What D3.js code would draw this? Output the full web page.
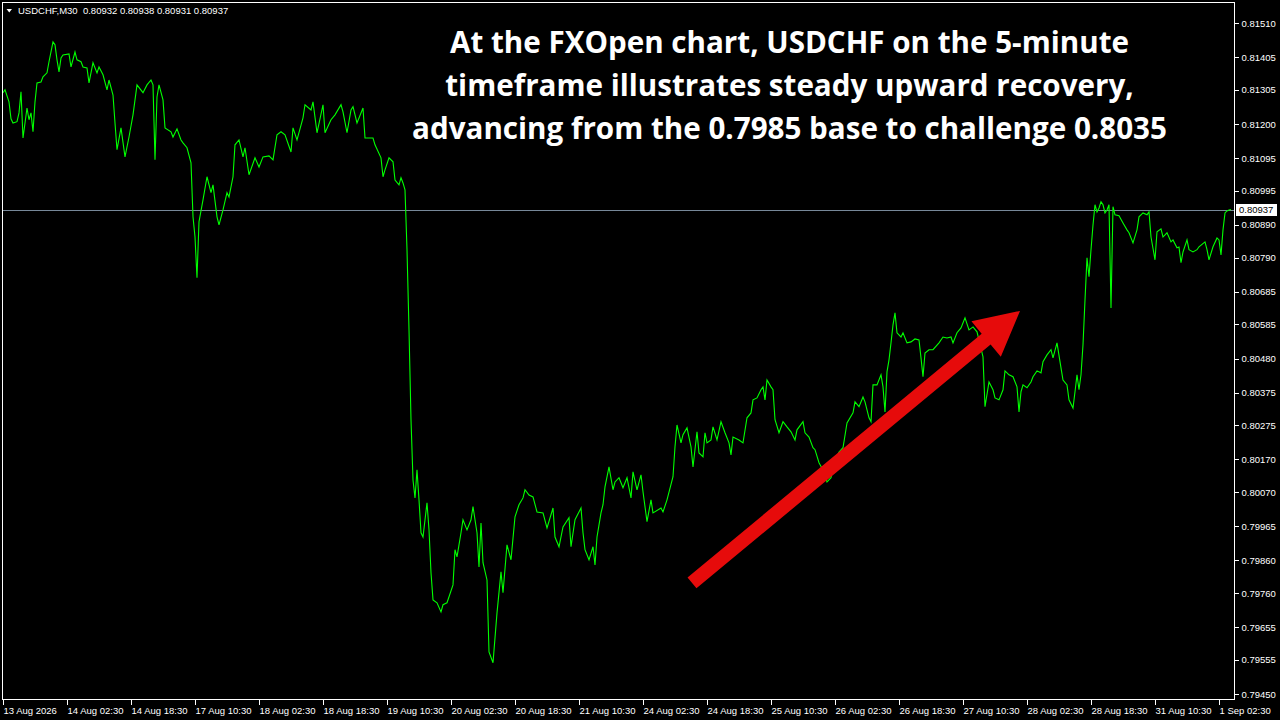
<!DOCTYPE html>
<html><head><meta charset="utf-8">
<script src="https://cdn.jsdelivr.net/npm/d3@7"></script>
<style>html,body{margin:0;background:#000;overflow:hidden}svg{display:block}</style>
</head><body>
<svg id="c" width="1280" height="720"></svg>
<script>
// ---- data (bar index = M30 bar number from the first bar on screen) ----
const barIndex = [0,1,3,4,5,7,8,9,10,12,13,14,15,16,17,19,20,22,23,25,26,27,28,29,30,33,34,36,37,39,40,42,43,45,47,48,50,52,53,55,56,57,59,61,63,65,67,70,72,74,75,76,77,78,80,81,84,85,87,89,90,92,94,95,96,97,98,100,102,104,105,107,108,110,112,113,115,116,118,120,121,123,126,128,130,133,135,137,139,141,144,145,147,150,151,154,155,157,160,161,164,166,169,170,172,174,175,177,180,181,185,186,189,190,191,193,195,196,198,199,200,201,202,203,204,205,206,207,208,209,210,212,213,214,215,217,219,220,222,225,226,227,229,230,232,234,235,237,238,239,240,242,243,245,247,249,250,252,254,256,258,260,261,263,265,267,270,272,275,276,278,280,283,284,286,289,290,291,293,295,296,297,299,300,301,303,305,306,308,310,312,314,315,317,319,320,322,324,325,329,330,332,335,336,337,339,340,342,344,345,347,348,350,351,352,354,355,357,359,361,363,364,365,368,370,372,374,375,377,379,380,381,382,384,385,386,388,390,392,394,396,397,400,401,403,405,406,408,410,412,414,416,418,420,422,425,426,428,430,431,433,434,435,437,439,440,441,442,443,444,445,446,447,449,450,452,454,456,458,459,460,461,463,465,468,470,472,474,475,477,479,481,483,485,487,490,491,493,495,496,498,500,501,503,505,507,508,509,510,512,514,515,517,519,520,522,524,525,527,529,530,532,533,535,536,537,538,539,540,541,542,543,544,545,546,547,548,549,550,551,552,553,554,555,556,558,560,562,563,565,567,568,570,572,573,574,576,577,579,580,582,584,585,587,588,589,590,592,593,595,597,598,601,602,603,605,607,608,609,610,611,612,613,614];
const closePrice = [0.81296,0.81305,0.81268,0.81216,0.81203,0.81207,0.81234,0.81299,0.81157,0.81249,0.81213,0.81234,0.81176,0.81268,0.81326,0.81329,0.81345,0.81357,0.81391,0.81452,0.81443,0.81397,0.81360,0.81403,0.81412,0.81415,0.81375,0.81421,0.81397,0.81391,0.81375,0.81372,0.81326,0.81388,0.81357,0.81375,0.81351,0.81305,0.81335,0.81289,0.81203,0.81121,0.81188,0.81099,0.81160,0.81228,0.81320,0.81296,0.81320,0.81335,0.81320,0.81090,0.81283,0.81320,0.81274,0.81188,0.81176,0.81160,0.81185,0.81151,0.81142,0.81127,0.81081,0.80915,0.80853,0.80728,0.80900,0.80967,0.81038,0.80989,0.81013,0.80915,0.80890,0.80936,0.80989,0.80976,0.81038,0.81136,0.81151,0.81099,0.81127,0.81044,0.81096,0.81068,0.81099,0.81102,0.81090,0.81167,0.81176,0.81167,0.81114,0.81188,0.81151,0.81219,0.81259,0.81243,0.81268,0.81173,0.81259,0.81173,0.81213,0.81228,0.81259,0.81237,0.81173,0.81243,0.81253,0.81203,0.81249,0.81157,0.81157,0.81136,0.81096,0.81038,0.81059,0.81096,0.81084,0.81028,0.81013,0.81035,0.81019,0.80998,0.80814,0.80568,0.80292,0.80107,0.80052,0.80138,0.80046,0.79945,0.79932,0.80037,0.79954,0.79822,0.79739,0.79730,0.79702,0.79724,0.79730,0.79785,0.79893,0.79871,0.79945,0.79985,0.79954,0.79985,0.80025,0.79945,0.79840,0.79975,0.79853,0.79800,0.79579,0.79546,0.79699,0.79825,0.79761,0.79908,0.79862,0.79994,0.80031,0.80052,0.80077,0.80061,0.80055,0.80009,0.80006,0.79960,0.80021,0.79932,0.79902,0.79963,0.79991,0.79902,0.79985,0.80021,0.79945,0.79893,0.79862,0.79902,0.79846,0.79932,0.80006,0.80031,0.80086,0.80147,0.80077,0.80101,0.80114,0.80083,0.80114,0.80052,0.80132,0.80077,0.80123,0.80071,0.79979,0.80046,0.80006,0.80021,0.80009,0.80046,0.80117,0.80209,0.80276,0.80221,0.80246,0.80267,0.80209,0.80147,0.80255,0.80190,0.80178,0.80252,0.80221,0.80230,0.80270,0.80230,0.80286,0.80252,0.80221,0.80184,0.80239,0.80230,0.80221,0.80298,0.80313,0.80353,0.80359,0.80384,0.80393,0.80353,0.80414,0.80393,0.80384,0.80292,0.80252,0.80286,0.80270,0.80255,0.80230,0.80261,0.80286,0.80252,0.80239,0.80206,0.80200,0.80160,0.80138,0.80101,0.80114,0.80163,0.80193,0.80206,0.80282,0.80313,0.80347,0.80332,0.80362,0.80347,0.80298,0.80286,0.80399,0.80399,0.80430,0.80393,0.80316,0.80439,0.80476,0.80528,0.80583,0.80620,0.80559,0.80546,0.80559,0.80528,0.80531,0.80540,0.80537,0.80482,0.80424,0.80497,0.80507,0.80507,0.80528,0.80546,0.80543,0.80546,0.80528,0.80559,0.80574,0.80605,0.80568,0.80577,0.80562,0.80485,0.80332,0.80408,0.80384,0.80359,0.80353,0.80384,0.80442,0.80430,0.80424,0.80393,0.80316,0.80378,0.80399,0.80390,0.80408,0.80424,0.80442,0.80436,0.80470,0.80491,0.80507,0.80482,0.80528,0.80451,0.80414,0.80399,0.80353,0.80328,0.80378,0.80430,0.80384,0.80430,0.80522,0.80660,0.80789,0.80731,0.80814,0.80890,0.80952,0.80930,0.80942,0.80961,0.80952,0.80927,0.80936,0.80952,0.80635,0.80946,0.80921,0.80918,0.80896,0.80875,0.80866,0.80835,0.80875,0.80915,0.80927,0.80921,0.80930,0.80853,0.80783,0.80869,0.80878,0.80853,0.80866,0.80838,0.80844,0.80820,0.80822,0.80774,0.80807,0.80844,0.80814,0.80807,0.80814,0.80823,0.80838,0.80814,0.80783,0.80823,0.80850,0.80844,0.80798,0.80875,0.80927,0.80933,0.80936,0.80937];
const yTickLabels = ["0.81510","0.81405","0.81305","0.81200","0.81095","0.80995","0.80890","0.80790","0.80685","0.80585","0.80480","0.80375","0.80275","0.80170","0.80070","0.79965","0.79860","0.79760","0.79655","0.79555","0.79450"];
const xTickBars = [0,32,64,96,128,160,192,224,256,288,320,352,384,416,448,480,512,544,576,608];
const xTickLabels = ["13 Aug 2026","14 Aug 02:30","14 Aug 18:30","17 Aug 10:30","18 Aug 02:30","18 Aug 18:30","19 Aug 10:30","20 Aug 02:30","20 Aug 18:30","21 Aug 10:30","24 Aug 02:30","24 Aug 18:30","25 Aug 10:30","26 Aug 02:30","26 Aug 18:30","27 Aug 10:30","28 Aug 02:30","28 Aug 18:30","31 Aug 10:30","1 Sep 02:30"];
const symbolInfo = "USDCHF,M30";
const ohlcValues = ["0.80932","0.80938","0.80931","0.80937"];
const currentPrice = 0.80937;
const titleLines = ["At the FXOpen chart, USDCHF on the 5-minute","timeframe illustrates steady upward recovery,","advancing from the 0.7985 base to challenge 0.8035"];
const arrowFrom = [344.5, 0.79791];
const arrowTo = [508.5, 0.80626];

// ---- drawing ----
const svg = d3.select("#c");
svg.append("rect").attr("width",1280).attr("height",720).attr("fill","#000");
const frame = {l:2.5, r:1234.5, t:2.5, b:699.5};
const x = d3.scaleLinear().domain([0,614]).range([3,1231]);
const y = d3.scaleLinear().domain([0.79450,0.81510]).range([694,23]);
const axisFont = "'Liberation Sans', Arial, sans-serif";

// current price line
svg.append("line").attr("x1",frame.l).attr("x2",frame.r)
  .attr("y1",Math.round(y(currentPrice))+0.5).attr("y2",Math.round(y(currentPrice))+0.5)
  .attr("stroke","#778899").attr("stroke-width",1).attr("shape-rendering","crispEdges");

// price line
const pts = barIndex.map((b,i)=>({b, p:closePrice[i]}));
svg.append("path").datum(pts)
  .attr("d", d3.line().x(d=>x(d.b)).y(d=>y(d.p)))
  .attr("fill","none").attr("stroke","#00ff00").attr("stroke-width",1.1)
  .attr("stroke-linejoin","miter");

// frame
svg.append("rect").attr("x",frame.l).attr("y",frame.t)
  .attr("width",frame.r-frame.l).attr("height",frame.b-frame.t)
  .attr("fill","none").attr("stroke","#fff").attr("stroke-width",1).attr("shape-rendering","crispEdges");

// right axis
const yAxis = d3.axisRight(y).tickValues(yTickLabels.map(Number))
  .tickFormat((d,i)=>yTickLabels[i]).tickSize(4).tickPadding(3);
const gy = svg.append("g").attr("transform",`translate(${frame.r},0)`).call(yAxis);
gy.select(".domain").remove();
gy.selectAll("line").attr("stroke","#fff").attr("shape-rendering","crispEdges");
gy.selectAll("text").attr("fill","#fff").attr("font-family",axisFont).attr("font-size","9.5px");

// current price label
const cpy = Math.round(y(currentPrice));
svg.append("rect").attr("x",1236).attr("y",cpy-6).attr("width",41).attr("height",12).attr("fill","#fff");
svg.append("text").attr("x",1239).attr("y",cpy).attr("dy","0.34em")
  .attr("fill","#000").attr("font-family",axisFont).attr("font-size","9.5px").text(currentPrice.toFixed(5));

// bottom axis
const xAxis = d3.axisBottom(x).tickValues(xTickBars)
  .tickFormat((d,i)=>xTickLabels[i]).tickSize(5).tickPadding(3);
const gx = svg.append("g").attr("transform",`translate(0,${frame.b})`).call(xAxis);
gx.select(".domain").remove();
gx.selectAll("line").attr("stroke","#fff").attr("shape-rendering","crispEdges");
gx.selectAll("text").attr("fill","#fff").attr("font-family",axisFont).attr("font-size","9.5px")
  .attr("text-anchor","start").attr("dx","0");

// header
svg.append("path").attr("d","M6.5,9 L12,9 L9.25,12.5 Z").attr("fill","#fff");
svg.append("text").attr("x",18).attr("y",13.5).attr("fill","#fff")
  .attr("font-family",axisFont).attr("font-size","9.5px").attr("xml:space","preserve")
  .text(symbolInfo + "  " + ohlcValues.join(" "));

// arrow annotation
(function(){
  const x0=x(arrowFrom[0]), y0=y(arrowFrom[1]), x1=x(arrowTo[0]), y1=y(arrowTo[1]);
  const dx=x1-x0, dy=y1-y0, L=Math.hypot(dx,dy), ux=dx/L, uy=dy/L, nx=-uy, ny=ux;
  const sw=7, hw=23, hl=44;
  const bx=x1-ux*hl, by=y1-uy*hl;
  const P=[[x0+nx*sw,y0+ny*sw],[bx+nx*sw,by+ny*sw],[bx+nx*hw,by+ny*hw],[x1,y1],
           [bx-nx*hw,by-ny*hw],[bx-nx*sw,by-ny*sw],[x0-nx*sw,y0-ny*sw]];
  svg.append("polygon").attr("points",P.map(p=>p.join(",")).join(" ")).attr("fill","#e60b0b");
})();

// title
const tt = svg.append("text").attr("text-anchor","middle").attr("fill","#fff")
  .attr("font-family","'Open Sans', Lato, sans-serif").attr("font-weight",700).attr("font-size","29.6px");
titleLines.forEach((s,i)=>tt.append("tspan").attr("x",789.5).attr("y",53+i*43).text(s));
</script>
</body></html>
